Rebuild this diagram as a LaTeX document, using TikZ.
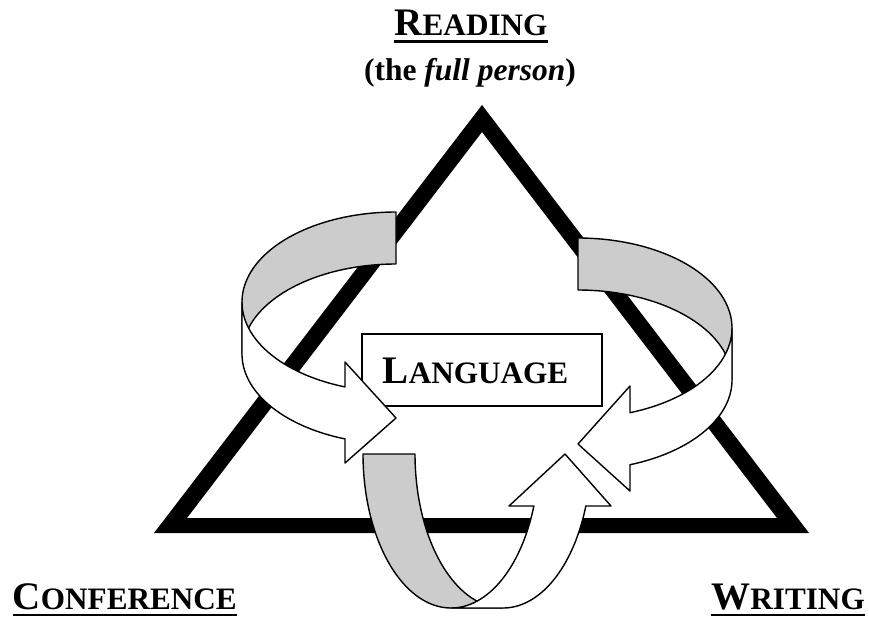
\documentclass[tikz,border=0pt]{standalone}
\usepackage{fontspec}
\setmainfont{Liberation Serif}
\definecolor{bandgray}{RGB}{204,204,204}
% word set in large caps: first letter full size, rest reduced
\newcommand{\capsword}[2]{{\fontsize{39}{39}\selectfont #1}{\fontsize{31.2}{31.2}\selectfont #2}}
\begin{document}
\begin{tikzpicture}[x=1pt,y=-1pt,
  band/.style={draw=black, line width=1.4pt, line join=round},
  backband/.style={band, fill=bandgray},
  frontband/.style={band, fill=white},
  caption/.style={inner sep=0pt, anchor=base, font=\bfseries},
  ulrule/.style={line width=2.6pt},
  langbox/.style={draw=black, fill=white, line width=1.6pt, minimum width=240pt, minimum height=72pt, inner sep=0pt}]
\useasboundingbox (0,0) rectangle (869,618);

% thick triangle frame
\fill[black, even odd rule]
  (482,105) -- (154,533) -- (809,533) -- cycle
  (482,132) -- (187,518) -- (777,518) -- cycle;

% central box
\node[langbox] (box) at (482,370) {};
\node[caption] (lang) at (475.5,383) {\capsword{L}{ANGUAGE}};

% left ribbon arrow: back band, then front band with head
\path[backband] (396,212)
  -- plot[domain=-90:-180, samples=50] ({396+154*cos(\x)},{302+90*sin(\x)})
  -- (242,354)
  -- plot[domain=180:270, samples=50] ({396+154*cos(\x)},{354+90*sin(\x)})
  -- cycle;
\path[frontband] (242,302)
  -- plot[domain=180:109.34, samples=50] ({396+154*cos(\x)},{302+90*sin(\x)})
  -- (345,362) -- (396,418) -- (345,463) -- (345,438.9)
  -- plot[domain=109.34:180, samples=50] ({396+154*cos(\x)},{354+90*sin(\x)})
  -- cycle;

% right ribbon arrow
\path[backband] (578,238)
  -- plot[domain=-90:0, samples=50] ({578+154*cos(\x)},{328+90*sin(\x)})
  -- (732,380)
  -- plot[domain=0:-90, samples=50] ({578+154*cos(\x)},{380+90*sin(\x)})
  -- cycle;
\path[frontband] (732,328)
  -- plot[domain=0:70.27, samples=50] ({578+154*cos(\x)},{328+90*sin(\x)})
  -- (630,386) -- (578,444) -- (630,491) -- (630,464.7)
  -- plot[domain=70.27:0, samples=50] ({578+154*cos(\x)},{380+90*sin(\x)})
  -- cycle;

% bottom ribbon arrow
\path[backband] (363,454)
  -- plot[domain=180:90, samples=50] ({451+88*cos(\x)},{454+154*sin(\x)})
  -- (503,608)
  -- plot[domain=90:180, samples=50] ({503+88*cos(\x)},{454+154*sin(\x)})
  -- cycle;
\path[frontband] (451,608)
  -- plot[domain=90:19.73, samples=50] ({451+88*cos(\x)},{454+154*sin(\x)})
  -- (509,506) -- (565,454) -- (611,506) -- (585.8,506)
  -- plot[domain=19.73:90, samples=50] ({503+88*cos(\x)},{454+154*sin(\x)})
  -- cycle;

% corner labels
\node[caption] (read) at (471,36) {\capsword{R}{EADING}};
\draw[ulrule] ([yshift=-5.5pt]read.base west) -- ([yshift=-5.5pt]read.base east);
\node[caption, font=\bfseries\fontsize{31.5}{31.5}\selectfont] (person) at (470,80) {(the \textit{full person})};

\node[caption, anchor=base east] (conf) at (237,609) {\capsword{C}{ONFERENCE}};
\draw[ulrule] ([yshift=-6pt]conf.base west) -- ([yshift=-6pt]conf.base east);

\node[caption, anchor=base east] (writ) at (865,609) {\capsword{W}{RITING}};
\draw[ulrule] ([yshift=-6pt]writ.base west) -- ([yshift=-6pt]writ.base east);
\end{tikzpicture}
\end{document}
